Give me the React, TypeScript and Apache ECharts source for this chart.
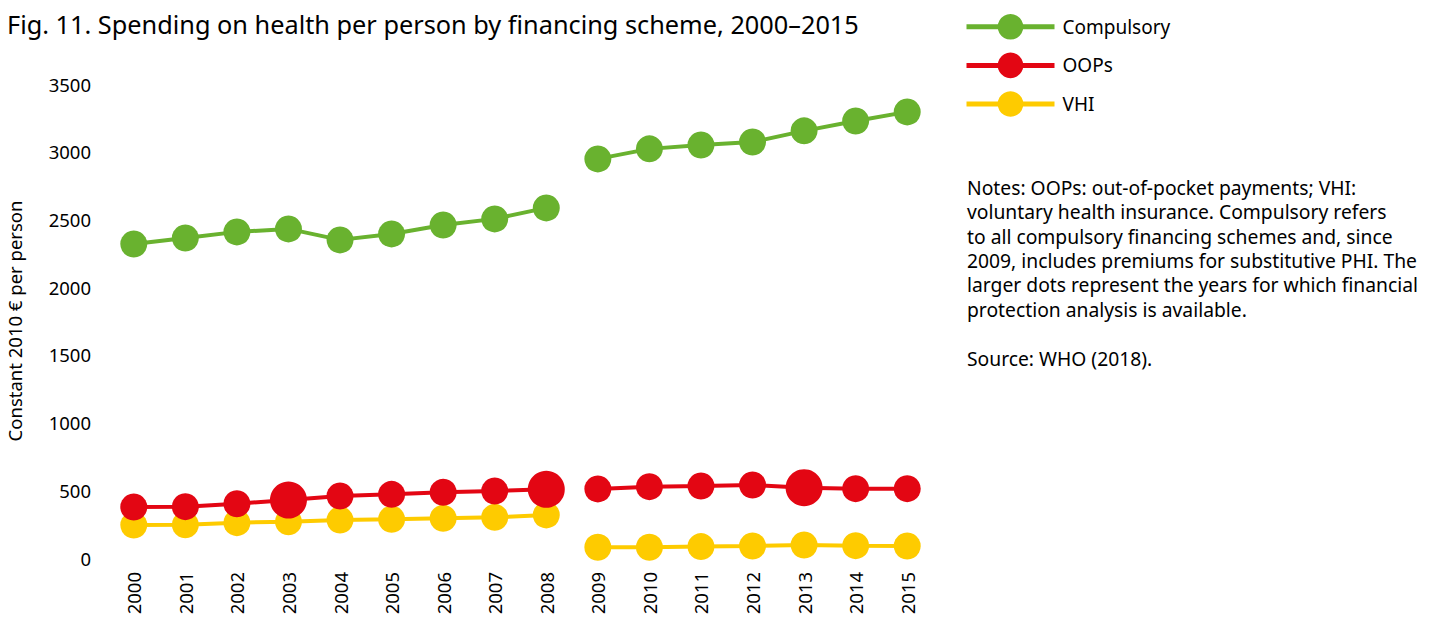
import React, { useEffect, useRef } from "react";
import * as echarts from "echarts";

const years = ["2000","2001","2002","2003","2004","2005","2006","2007","2008","2009","2010","2011","2012","2013","2014","2015"];
const compulsory = [2319, 2363, 2408, 2430, 2349, 2393, 2459, 2504, 2585, 2947, 3021, 3050, 3072, 3154, 3227, 3294];
const oops = [377, 379, 401, 428, 458, 470, 485, 495, 507, 510, 527, 532, 539, 519, 512, 512];
const vhi = [244, 246, 261, 268, 281, 286, 293, 300, 318, 79, 79, 84, 89, 96, 91, 89];
const largeDotYears = ["2003", "2008", "2013"];
const breakYear = "2009";
const yTicks = { min: 0, max: 3500, interval: 500 };

const title = "Fig. 11. Spending on health per person by financing scheme, 2000–2015";
const yName = "Constant 2010 € per person";
const notes = "Notes: OOPs: out-of-pocket payments; VHI:\nvoluntary health insurance. Compulsory refers\nto all compulsory financing schemes and, since\n2009, includes premiums for substitutive PHI. The\nlarger dots represent the years for which financial\nprotection analysis is available.\n\nSource: WHO (2018).";

const COLORS = { Compulsory: "#69b22f", OOPs: "#e30613", VHI: "#fecb00" };
const FONT = "'Noto Sans', 'Open Sans', sans-serif";

function makeSeries(name: string, values: number[], color: string, z: number, large: boolean) {
  const bi = years.indexOf(breakYear);
  const item = (v: number, i: number) => ({
    value: v,
    symbolSize: large && largeDotYears.includes(years[i]) ? 37 : 27,
  });
  const before = values.map((v, i) => (i < bi ? item(v, i) : null));
  const after = values.map((v, i) => (i >= bi ? item(v, i) : null));
  const base = {
    name,
    type: "line",
    symbol: "circle",
    symbolSize: 27,
    z,
    connectNulls: false,
    lineStyle: { color, width: 4 },
    itemStyle: { color, borderWidth: 0 },
    emphasis: { disabled: true },
  };
  return [
    { ...base, data: before },
    { ...base, data: after },
  ];
}

export default function App() {
  const ref = useRef<HTMLDivElement>(null);
  useEffect(() => {
    if (!ref.current) return;
    const chart = echarts.init(ref.current, null, { renderer: "svg" });
    chart.setOption({
      animation: false,
      backgroundColor: "#ffffff",
      textStyle: { fontFamily: FONT },
      title: {
        text: title,
        left: 2,
        top: 6,
        textStyle: { fontFamily: FONT, fontSize: 25.3, fontWeight: "normal", color: "#000" },
      },
      legend: {
        data: ["Compulsory", "OOPs", "VHI"],
        orient: "vertical",
        left: 964,
        top: 14,
        padding: 0,
        itemWidth: 88,
        itemHeight: 32,
        itemGap: 13,
        lineStyle: { width: 5 },
        textStyle: { fontFamily: FONT, fontSize: 19, color: "#000", padding: [0, 0, 0, 3] },
        selectedMode: false,
      },
      graphic: [
        {
          type: "text",
          left: 967,
          top: 175,
          style: { text: notes, font: `19.3px ${FONT}`, fill: "#000", lineHeight: 24.4 },
        },
      ],
      grid: { left: 108, top: 84, width: 825, height: 474, containLabel: false, outerBoundsMode: "none" },
      xAxis: {
        type: "category",
        data: years,
        boundaryGap: true,
        axisLine: { show: false },
        axisTick: { show: false },
        axisLabel: { rotate: 90, margin: 14, fontSize: 18.5, color: "#000", fontFamily: FONT },
      },
      yAxis: {
        type: "value",
        min: yTicks.min,
        max: yTicks.max,
        interval: yTicks.interval,
        name: yName,
        nameLocation: "middle",
        nameGap: 84,
        nameTextStyle: { fontSize: 18.5, color: "#000", fontFamily: FONT },
        axisLine: { show: false },
        axisTick: { show: false },
        splitLine: { show: false },
        axisLabel: { margin: 17, fontSize: 18.5, color: "#000", fontFamily: FONT, formatter: (v: number) => String(v) },
      },
      series: [
        ...makeSeries("VHI", vhi, COLORS.VHI, 2, false),
        ...makeSeries("OOPs", oops, COLORS.OOPs, 3, true),
        ...makeSeries("Compulsory", compulsory, COLORS.Compulsory, 4, false),
      ],
    });
    return () => chart.dispose();
  }, []);
  return <div ref={ref} style={{ position: "fixed", left: 0, top: 0, width: 1438, height: 621 }} />;
}
